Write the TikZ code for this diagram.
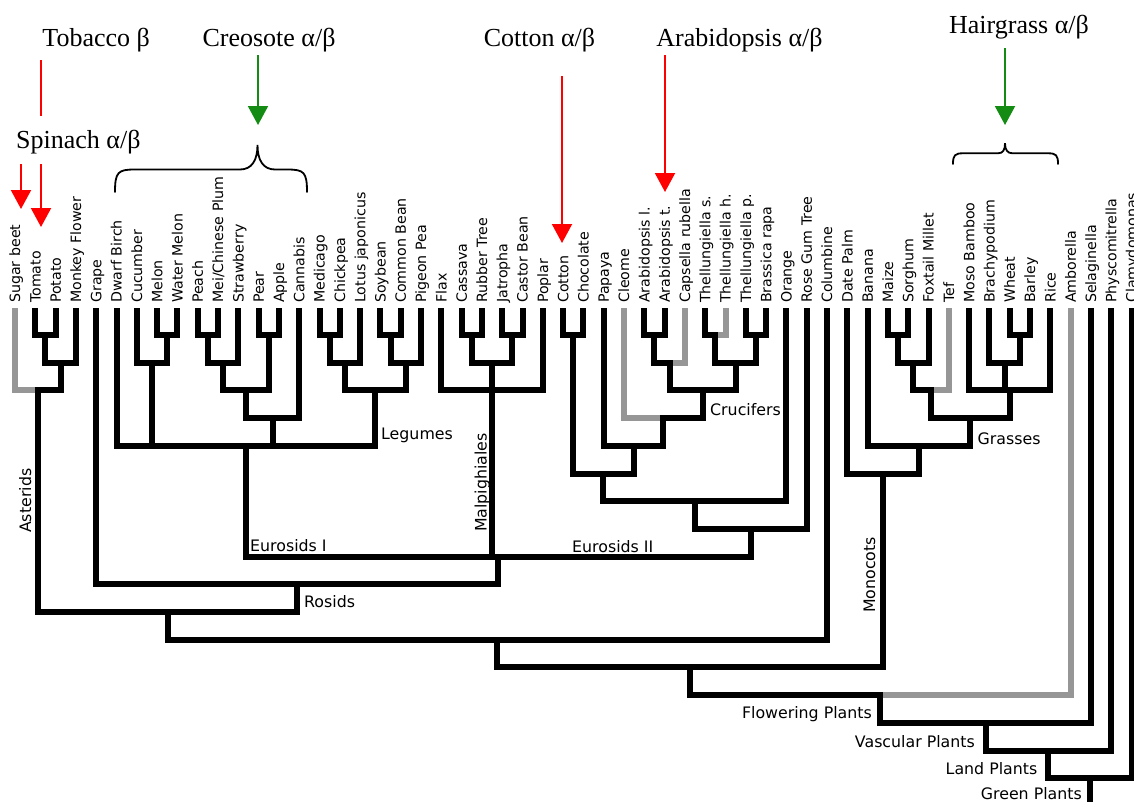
\documentclass[tikz,border=0pt]{standalone}
\usepackage{fontspec}
\setmainfont{Liberation Serif}
\newfontfamily\dejavu{DejaVu Sans}
\usetikzlibrary{arrows.meta}
\definecolor{treegray}{RGB}{150,150,150}
\definecolor{arrred}{RGB}{255,0,0}
\definecolor{arrgreen}{RGB}{20,140,20}
\newcommand\myleaf[2]{\coordinate (L#1) at ({15+20.3*#1},308); \node[leaflab] (T#1) at ({20.2+20.3*#1},303) {#2};}
\begin{document}
\begin{tikzpicture}[x=1pt,y=-1pt,
  tree/.style={line width=6pt,line join=miter,line cap=butt},
  graytree/.style={tree,draw=treegray},
  leaflab/.style={rotate=90,anchor=base west,inner sep=0pt,font=\dejavu\fontsize{14.2}{16}\selectfont},
  cladelab/.style={inner sep=0pt,font=\dejavu\fontsize{15.8}{18}\selectfont},
  toplab/.style={anchor=base,inner sep=0pt,font=\fontsize{26}{30}\selectfont},
  redline/.style={draw=arrred,line width=2pt},
  redarrow/.style={redline,-{Triangle[length=19pt,width=20pt]}},
  greenarrow/.style={draw=arrgreen,line width=2pt,-{Triangle[length=19pt,width=20pt]}},
  bracestyle/.style={line width=1.8pt,line cap=round}]
\useasboundingbox (0,0) rectangle (1134,801);

% leaves
\myleaf{0}{Sugar beet}
\myleaf{1}{Tomato}
\myleaf{2}{Potato}
\myleaf{3}{Monkey Flower}
\myleaf{4}{Grape}
\myleaf{5}{Dwarf Birch}
\myleaf{6}{Cucumber}
\myleaf{7}{Melon}
\myleaf{8}{Water Melon}
\myleaf{9}{Peach}
\myleaf{10}{Mei/Chinese Plum}
\myleaf{11}{Strawberry}
\myleaf{12}{Pear}
\myleaf{13}{Apple}
\myleaf{14}{Cannabis}
\myleaf{15}{Medicago}
\myleaf{16}{Chickpea}
\myleaf{17}{Lotus japonicus}
\myleaf{18}{Soybean}
\myleaf{19}{Common Bean}
\myleaf{20}{Pigeon Pea}
\myleaf{21}{Flax}
\myleaf{22}{Cassava}
\myleaf{23}{Rubber Tree}
\myleaf{24}{Jatropha}
\myleaf{25}{Castor Bean}
\myleaf{26}{Poplar}
\myleaf{27}{Cotton}
\myleaf{28}{Chocolate}
\myleaf{29}{Papaya}
\myleaf{30}{Cleome}
\myleaf{31}{Arabidopsis l.}
\myleaf{32}{Arabidopsis t.}
\myleaf{33}{Capsella rubella}
\myleaf{34}{Thellungiella s.}
\myleaf{35}{Thellungiella h.}
\myleaf{36}{Thellungiella p.}
\myleaf{37}{Brassica rapa}
\myleaf{38}{Orange}
\myleaf{39}{Rose Gum Tree}
\myleaf{40}{Columbine}
\myleaf{41}{Date Palm}
\myleaf{42}{Banana}
\myleaf{43}{Maize}
\myleaf{44}{Sorghum}
\myleaf{45}{Foxtail Millet}
\myleaf{46}{Tef}
\myleaf{47}{Moso Bamboo}
\myleaf{48}{Brachypodium}
\myleaf{49}{Wheat}
\myleaf{50}{Barley}
\myleaf{51}{Rice}
\myleaf{52}{Amborella}
\myleaf{53}{Selaginella}
\myleaf{54}{Physcomitrella}
\myleaf{55}{Clamydomonas}

% internal nodes (x, bar level)
\coordinate (TP) at (45.45,335);
\coordinate (TPM) at (60.68,362.7);
\coordinate (Ast) at (37.84,390.4);
\coordinate (MW) at (167.25,335);
\coordinate (CMW) at (152.03,362.7);
\coordinate (PM) at (207.85,335);
\coordinate (PMS) at (223.08,362.7);
\coordinate (PA) at (268.75,335);
\coordinate (Ros) at (245.91,390.4);
\coordinate (RosCan) at (272.56,418.1);
\coordinate (MC) at (329.65,335);
\coordinate (MCL) at (344.88,362.7);
\coordinate (SC) at (390.55,335);
\coordinate (SCP) at (405.78,362.7);
\coordinate (Leg) at (375.33,390.4);
\coordinate (Fab) at (245.91,445.8);
\coordinate (CR) at (471.75,335);
\coordinate (JC) at (512.35,335);
\coordinate (CRJC) at (492.05,362.7);
\coordinate (Malp) at (492.05,390.4);
\coordinate (CC) at (573.25,335);
\coordinate (AL) at (654.45,335);
\coordinate (ALC) at (669.68,362.7);
\coordinate (Ths) at (715.35,335);
\coordinate (TpB) at (755.95,335);
\coordinate (Th4) at (735.65,362.7);
\coordinate (Cruc) at (702.66,390.4);
\coordinate (CleCruc) at (663.33,418.1);
\coordinate (Pap) at (633.52,445.8);
\coordinate (Malv) at (603.38,473.5);
\coordinate (MalvOr) at (694.89,501.2);
\coordinate (EII) at (750.80,528.9);
\coordinate (Euro) at (498.35,556.6);
\coordinate (Rosids) at (297.28,584.3);
\coordinate (Core) at (167.56,612);
\coordinate (Eud) at (497.28,639.7);
\coordinate (MS) at (898.05,335);
\coordinate (MSF) at (913.28,362.7);
\coordinate (PAC) at (931.04,390.4);
\coordinate (WB) at (1019.85,335);
\coordinate (BWB) at (1004.63,362.7);
\coordinate (BOP) at (1009.7,390.4);
\coordinate (Grass) at (970.37,418.1);
\coordinate (Ban) at (918.99,445.8);
\coordinate (Mono) at (883.14,473.5);
\coordinate (Ang) at (690.21,667.4);
\coordinate (Flow) at (880.41,695.1);
\coordinate (Vasc) at (985.65,722.8);
\coordinate (Land) at (1048.43,750.5);
\coordinate (Green) at (1089.96,778.2);
\coordinate (rootend) at (1089.96,812);

% black tree
\draw[tree] (L1) |- (TP) -| (L2);
\draw[tree] (TP) |- (TPM) -| (L3);
\draw[tree] (L0) |- (Ast) -| (TPM);
\draw[tree] (L7) |- (MW) -| (L8);
\draw[tree] (L6) |- (CMW) -| (MW);
\draw[tree] (L9) |- (PM) -| (L10);
\draw[tree] (PM) |- (PMS) -| (L11);
\draw[tree] (L12) |- (PA) -| (L13);
\draw[tree] (PMS) |- (Ros) -| (PA);
\draw[tree] (Ros) |- (RosCan) -| (L14);
\draw[tree] (L15) |- (MC) -| (L16);
\draw[tree] (MC) |- (MCL) -| (L17);
\draw[tree] (L18) |- (SC) -| (L19);
\draw[tree] (SC) |- (SCP) -| (L20);
\draw[tree] (MCL) |- (Leg) -| (SCP);
\draw[tree] (L5) |- (Fab) -| (Leg);
\draw[tree] (CMW) -- (CMW |- Fab);
\draw[tree] (RosCan) -- (RosCan |- Fab);
\draw[tree] (L22) |- (CR) -| (L23);
\draw[tree] (L24) |- (JC) -| (L25);
\draw[tree] (CR) |- (CRJC) -| (JC);
\draw[tree] (L21) |- (Malp) -| (L26);
\draw[tree] (CRJC) -- (Malp);
\draw[tree] (L27) |- (CC) -| (L28);
\draw[tree] (L31) |- (AL) -| (L32);
\draw[tree] (AL) |- (ALC) -| (L33);
\draw[tree] (L34) |- (Ths) -| (L35);
\draw[tree] (L36) |- (TpB) -| (L37);
\draw[tree] (Ths) |- (Th4) -| (TpB);
\draw[tree] (ALC) |- (Cruc) -| (Th4);
\draw[tree] (L30) |- (CleCruc) -| (Cruc);
\draw[tree] (L29) |- (Pap) -| (CleCruc);
\draw[tree] (CC) |- (Malv) -| (Pap);
\draw[tree] (Malv) |- (MalvOr) -| (L38);
\draw[tree] (MalvOr) |- (EII) -| (L39);
\draw[tree] (Fab) |- (Euro) -| (EII);
\draw[tree] (Malp) -- (Malp |- Euro);
\draw[tree] (L4) |- (Rosids) -| (Euro);
\draw[tree] (Ast) |- (Core) -| (Rosids);
\draw[tree] (Core) |- (Eud) -| (L40);
\draw[tree] (L43) |- (MS) -| (L44);
\draw[tree] (MS) |- (MSF) -| (L45);
\draw[tree] (MSF) |- (PAC) -| (L46);
\draw[tree] (L49) |- (WB) -| (L50);
\draw[tree] (L48) |- (BWB) -| (WB);
\draw[tree] (L47) |- (BOP) -| (L51);
\draw[tree] (BWB) -- (BWB |- BOP);
\draw[tree] (PAC) |- (Grass) -| (BOP);
\draw[tree] (L42) |- (Ban) -| (Grass);
\draw[tree] (L41) |- (Mono) -| (Ban);
\draw[tree] (Eud) |- (Ang) -| (Mono);
\draw[tree] (Ang) |- (Flow) -| (L52);
\draw[tree] (Flow) |- (Vasc) -| (L53);
\draw[tree] (Vasc) |- (Land) -| (L54);
\draw[tree] (Land) |- (Green) -| (L55);
\draw[tree] (Green) -- (rootend);

% grey branches
\draw[graytree] (L0) |- ([xshift=-3pt]Ast);
\draw[graytree] (L30) |- ([xshift=-3pt]CleCruc);
\draw[graytree] (L33) |- ([xshift=3pt]ALC);
\draw[graytree] (L35) |- ([xshift=3pt]Ths);
\draw[graytree] (L46) |- ([xshift=3pt]PAC);
\draw[graytree] (L52) |- ([xshift=3pt]Flow);

% clade labels
\node[cladelab,anchor=base west] (lLeg) at (381,439) {Legumes};
\node[cladelab,anchor=base west] (lCruc) at (710,415.5) {Crucifers};
\node[cladelab,anchor=base west] (lGrass) at (977.5,444) {Grasses};
\node[cladelab,anchor=base west] (lEI) at (250,551) {Eurosids I};
\node[cladelab,anchor=base west] (lEII) at (572,552) {Eurosids II};
\node[cladelab,anchor=base west] (lRos) at (304,607.5) {Rosids};
\node[cladelab,anchor=base east] (lFlow) at (872,718) {Flowering Plants};
\node[cladelab,anchor=base east] (lVasc) at (975,747) {Vascular Plants};
\node[cladelab,anchor=base east] (lLand) at (1037.5,774) {Land Plants};
\node[cladelab,anchor=base east] (lGreen) at (1082,799) {Green Plants};
\node[cladelab,rotate=90,anchor=base west] (lAst) at (31.2,533) {Asterids};
\node[cladelab,rotate=90,anchor=base west] (lMalp) at (486.5,532) {Malpighiales};
\node[cladelab,rotate=90,anchor=base west] (lMono) at (875,613) {Monocots};

% top labels
\node[toplab] (tobacco) at (96.2,46.7) {Tobacco β};
\node[toplab] (creosote) at (269,46.7) {Creosote α/β};
\node[toplab] (cotton) at (539.5,46.7) {Cotton α/β};
\node[toplab] (arabid) at (739.5,46.7) {Arabidopsis α/β};
\node[toplab] (hairgrass) at (1019,33.3) {Hairgrass α/β};
\node[toplab] (spinach) at (78.3,148.3) {Spinach α/β};

% arrows
\coordinate (tobA) at (41,60);
\coordinate (tobB) at (41,116);
\coordinate (tobC) at (41,164);
\coordinate (tobD) at (41,227);
\coordinate (spiA) at (21,164);
\coordinate (spiB) at (21,209);
\coordinate (cotA) at (562,76);
\coordinate (cotB) at (562,243);
\coordinate (araA) at (665,55);
\coordinate (araB) at (665,192);
\coordinate (creA) at (258,55);
\coordinate (creB) at (258,125);
\coordinate (haiA) at (1005,48);
\coordinate (haiB) at (1005,125);
\draw[redline] (tobA) -- (tobB);
\draw[redarrow] (tobC) -- (tobD);
\draw[redarrow] (spiA) -- (spiB);
\draw[redarrow] (cotA) -- (cotB);
\draw[redarrow] (araA) -- (araB);
\draw[greenarrow] (creA) -- (creB);
\draw[greenarrow] (haiA) -- (haiB);

% braces
\draw[bracestyle] (115,192) .. controls (115,172) and (118,169.5) .. (135,169.5) -- (240,169.5)
  .. controls (252,169.5) and (257.5,160) .. (257.5,145)
  .. controls (257.5,160) and (263,169.5) .. (275,169.5) -- (287,169.5)
  .. controls (304,169.5) and (307,172) .. (307,192);
\draw[bracestyle] (953,164) .. controls (953,155) and (955,153.3) .. (963,153.3) -- (998,153.3)
  .. controls (1003,153.3) and (1005,150) .. (1005,143.3)
  .. controls (1005,150) and (1007.5,153.3) .. (1012.5,153.3) -- (1048,153.3)
  .. controls (1056,153.3) and (1058,155) .. (1058,164);
\end{tikzpicture}
\end{document}
